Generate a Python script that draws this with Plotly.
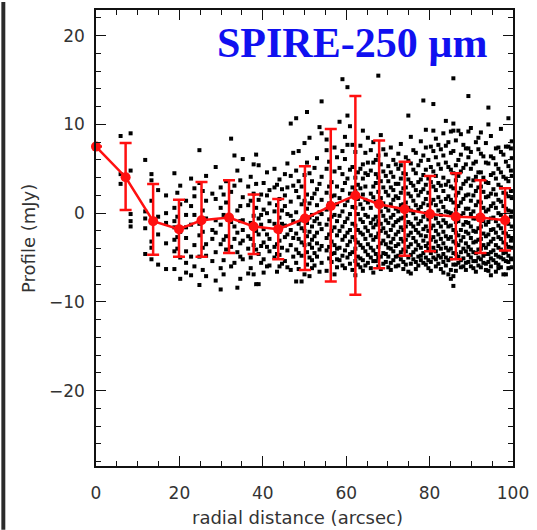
import plotly.graph_objects as go

# ---- binned profile (red) ----
rad = [0, 7.1, 13.7, 19.9, 25.3, 31.9, 37.8, 43.7, 50.1, 56.3, 62.2, 67.9, 74.0, 80.1, 86.3, 92.2, 98.1]
prof = [7.5, 4.05, -0.9, -1.8, -0.8, -0.5, -1.5, -1.8, -0.6, 0.8, 2.0, 1.0, 0.45, -0.1, -0.4, -0.5, -0.8]
upper = [7.5, 7.9, 3.3, 1.5, 3.5, 3.7, 2.1, 1.6, 5.3, 9.5, 13.2, 8.2, 5.8, 4.2, 4.5, 3.7, 2.8]
lower = [7.5, 0.35, -4.7, -4.9, -4.9, -4.5, -4.6, -5.2, -6.4, -7.7, -9.2, -6.2, -4.8, -4.3, -5.2, -4.5, -4.2]

# ---- individual pixel values (black dots), grouped in radial columns ----
col_r = [5.9, 8.3, 11.8, 13.3, 14.9, 16.8, 18.8, 20.2, 21.6, 23.6, 24.8, 26.4, 27.9, 29.9,
         31.2, 32.4, 33.9, 35.2, 36.5, 37.8, 39.0, 40.2, 41.6, 42.8, 44.0, 45.3, 46.7, 48.0,
         49.3, 50.6, 51.8, 53.0, 54.1, 55.3, 56.5, 57.8, 59.1, 60.3, 61.5, 62.8, 64.0, 65.2,
         66.5, 67.7, 68.9, 70.1, 71.3, 72.5, 73.7, 74.9, 76.1, 77.3, 78.5, 79.7, 80.9, 82.1,
         83.3, 84.5, 85.7, 86.9, 88.1, 89.3, 90.5, 91.7, 92.9, 94.1, 95.3, 96.5, 97.7, 98.9, 99.5]
col_vals = [
    [8.7, 4.4, 3.3],
    [9.0, 4.8, -0.1, -0.9, -1.5],
    [6.0, 0.2, -0.6, -1.7, -4.6],
    [4.4, 3.7, 1.4, -3.2, -3.9, -5.2],
    [2.6, -0.4, -2.4, -5.8],
    [2.0, 0.0, -1.1, -6.3, -3.4],
    [4.5, 0.6, -0.9, -1.6, -3.0, -4.3, -6.3],
    [3.1, 1.0, -2.1, -5.0, -7.4],
    [1.4, -0.2, -1.6, -2.8, -4.3, -5.6, -6.7],
    [1.9, -0.2, 2.8, -3.6, -6.0],
    [7.1, 3.4, -1.2, -2.5, -4.9, -8.1],
    [1.4, 4.2, -0.6, -3.5, -4.8, -7.1],
    [2.2, -1.9, -2.9, -5.4],
    [2.9, 0.6, -1.3, -3.5, -6.2, -8.6],
    [3.6, 1.2, -0.4, -2.6, -4.1],
    [8.4, 2.4, -1.0, -3.8, -6.0],
    [4.8, 0.3, -2.2, -4.4, -8.4],
    [6.1, 1.8, -0.8, -1.9, -3.1, -5.2],
    [3.0, 0.9, -2.6, -4.0, -6.8],
    [5.5, 2.2, -0.3, -1.5, -3.6, -6.9],
    [5.4, 1.5, -0.6, -2.4, -4.6, -8.0],
    [3.4, 0.4, -1.8, -3.3, -5.2, -6.7],
    [2.6, 1.1, -0.9, -2.9, -4.3, -5.9],
    [5.0, 2.9, 0.2, -1.2, -3.8, -5.0],
    [3.8, 1.6, -0.5, -2.1, -3.1, -4.7, -6.0],
    [4.4, 2.0, 0.8, -1.4, -2.7, -5.4],
    [10.1, 4.2, 1.3, -0.3, -1.9, -3.6, -6.4],
    [10.7, 4.8, 2.5, 0.1, -2.3, -4.1, -5.6, -7.7],
    [3.0, 1.0, -0.8, -1.7, -3.3, -4.8, -7.7],
    [11.4, 5.7, 2.1, 0.5, -1.1, -2.6, -4.4, -5.8],
    [3.6, 1.7, -0.2, -1.5, -3.0, -3.9, -5.3, -6.2],
    [6.2, 2.7, 0.9, -0.6, -2.2, -3.4, -4.9],
    [12.6, 9.0, 4.1, 1.5, -0.1, -1.8, -3.7, -5.6],
    [8.3, 7.1, 5.0, 2.3, 0.4, -1.3, -2.8, -4.2, -6.5],
    [3.5, 1.9, -0.4, -2.0, -3.2, -4.6, -5.5],
    [6.3, 3.0, 1.0, -0.9, -2.5, -4.0, -5.2, -6.1],
    [15.1, 7.0, 4.4, 2.6, 0.2, -1.5, -3.0, -4.8, -5.9],
    [14.2, 11.0, 7.7, 3.9, 1.4, -0.6, -2.2, -3.6, -5.0],
    [7.7, 5.2, 2.9, 0.7, -1.2, -2.7, -4.4, -6.4],
    [4.6, 3.2, 1.6, -0.1, -1.9, -3.3, -4.9, -5.8],
    [9.3, 5.5, 3.9, 2.1, 0.5, -1.0, -2.4, -3.9, -5.3, -6.5],
    [8.5, 5.7, 4.3, 1.2, -0.4, -2.0, -3.5, -4.7, -5.6],
    [8.0, 5.7, 3.0, 1.8, -0.7, -1.6, -3.0, -4.2, -5.4, -6.7],
    [15.5, 6.5, 4.0, 2.4, 0.8, -0.9, -2.3, -3.8, -5.0, -6.0],
    [7.2, 4.7, 2.9, 1.1, -0.3, -1.7, -3.1, -4.5, -5.7],
    [5.3, 3.6, 2.0, 0.3, -1.1, -2.6, -3.9, -4.9, -6.1],
    [6.0, 4.1, 2.6, 1.5, -0.2, -1.4, -2.9, -4.3, -5.3],
    [6.7, 5.0, 3.3, 1.7, 0.2, -0.8, -2.1, -3.5, -4.8, -5.9],
    [4.5, 2.8, 1.0, -0.5, -1.9, -3.2, -4.1, -5.5, -6.3],
    [11.0, 5.9, 3.8, 2.2, 0.6, -1.0, -2.5, -3.8, -5.0, -6.6],
    [7.1, 4.9, 3.1, 1.4, 0.0, -1.5, -2.8, -4.4, -5.2],
    [5.4, 3.5, 2.0, 0.4, -1.2, -2.2, -3.6, -4.9, -5.9],
    [12.7, 6.5, 4.3, 2.7, 1.1, -0.4, -1.8, -3.1, -4.5, -5.6],
    [6.0, 3.9, 2.3, 0.9, -0.7, -2.0, -3.4, -4.0, -5.3, -6.2],
    [12.3, 9.3, 7.0, 4.7, 3.0, 1.5, -0.2, -1.4, -2.7, -3.9, -5.0],
    [7.7, 5.5, 3.4, 1.8, 0.3, -1.1, -2.4, -3.7, -5.7, -4.8],
    [9.0, 6.5, 4.0, 2.5, 0.7, -0.8, -2.1, -3.4, -4.6, -5.5, -6.7],
    [8.0, 5.2, 3.6, 1.9, 0.1, -1.5, -2.9, -4.2, -5.3, -6.9],
    [15.2, 10.1, 9.3, 7.0, 4.5, 2.8, 1.2, -0.5, -1.9, -3.2, -4.5, -5.8, -7.1, -8.2],
    [9.3, 6.0, 4.2, 2.3, 0.8, -0.9, -2.5, -3.6, -4.9, -5.6],
    [7.7, 5.1, 3.3, 1.6, 0.0, -1.3, -2.7, -4.0, -5.1, -6.0],
    [13.2, 9.2, 7.3, 6.3, 3.9, 2.1, 0.5, -1.1, -2.3, -3.8, -4.7, -5.5],
    [5.6, 3.7, 2.0, 0.2, -0.6, -2.0, -3.3, -4.4, -5.4, -6.2],
    [8.5, 7.2, 4.6, 2.9, 1.3, -0.3, -1.7, -3.0, -4.1, -5.0, -5.9],
    [6.4, 4.0, 2.4, 0.6, -0.9, -2.3, -3.6, -4.8, -5.6],
    [11.9, 10.0, 5.6, 3.4, 1.9, 0.4, -1.0, -2.4, -3.5, -4.6, -5.5, -6.5],
    [6.2, 4.5, 2.7, 1.1, -0.5, -1.8, -2.9, -4.2, -5.3],
    [7.4, 5.0, 3.2, 1.5, 0.0, -1.4, -2.7, -3.9, -4.9, -5.8, -6.2],
    [6.6, 4.1, 2.3, 0.8, -0.8, -2.2, -3.3, -4.5, -5.2, -6.9],
    [10.7, 7.5, 5.3, 3.6, 1.9, 0.3, -1.2, -2.6, -3.8, -4.8, -5.5, -6.2],
    [7.3, 4.8, 2.5, -0.4, -3.1, -5.1],
]

# second interleaved set of radial columns
col_r2 = [19.5, 22.8, 25.6, 28.7, 30.6, 33.2, 34.6, 37.1, 38.4, 39.6, 41.0, 43.4, 44.6, 45.9,
          47.3, 48.6, 50.0, 51.2, 52.4, 53.6, 55.9, 57.2, 58.4, 59.7, 60.9, 62.2, 63.4, 64.6,
          65.9, 67.1, 68.3, 69.5, 70.7, 71.9, 73.1, 74.3, 75.5, 76.7, 77.9, 79.1, 80.3, 81.5,
          82.7, 83.9, 85.1, 86.3, 87.5, 88.7, 89.9, 91.1, 92.3, 93.5, 94.7, 95.9, 97.1, 98.3, 99.7]
col_vals2 = [
    [2.3, -0.4, -2.7, -4.0],
    [3.9, 0.8, -1.3, -4.9, -7.0],
    [2.5, 0.3, -2.1, -3.9, -6.4],
    [5.2, 1.6, -0.8, -2.2, -4.4, -7.6],
    [2.1, -0.2, -3.0, -5.3, -6.9],
    [6.5, 3.1, -1.5, -2.9, -5.6],
    [3.7, 0.8, -0.9, -3.4, -4.9, -7.4],
    [4.1, 1.4, -1.1, -2.9, -5.0, -6.2],
    [6.6, 3.3, 0.6, -2.0, -4.1, -8.0],
    [2.1, -0.2, -1.3, -3.7, -5.6],
    [4.6, 2.0, 0.0, -2.4, -3.8, -6.0],
    [3.2, 0.9, -1.6, -3.5, -4.6, -6.6],
    [2.7, 0.3, -1.2, -3.9, -5.7],
    [5.6, 2.9, -0.1, -2.4, -4.2, -6.1],
    [6.8, 3.1, -0.9, -2.8, -4.9],
    [7.0, 3.6, 1.8, -1.2, -2.9, -4.5, -6.3],
    [7.9, 4.3, 1.4, -2.0, -3.6, -6.9],
    [8.5, 4.5, 1.1, -0.5, -2.1, -3.5, -5.0, -7.1],
    [5.1, 2.2, -0.9, -2.6, -4.5, -5.9],
    [9.7, 3.3, 0.1, -1.2, -4.1, -6.6],
    [5.8, 3.0, 1.1, -0.7, -2.4, -3.8, -5.1],
    [7.4, 4.7, 2.0, -0.2, -1.6, -3.6, -4.5, -6.9],
    [10.3, 5.1, 1.7, -0.3, -2.0, -3.9, -5.3],
    [8.6, 6.1, 3.4, 0.9, -1.0, -2.6, -4.2, -6.2],
    [9.8, 4.9, 2.2, -0.1, -1.9, -3.2, -4.6, -5.7],
    [6.9, 4.0, 2.5, 0.6, -1.4, -3.0, -4.0, -5.4, -7.0],
    [7.6, 5.0, 2.8, 1.0, -0.7, -2.2, -3.6, -5.1, -6.1],
    [6.8, 4.5, 3.0, 1.5, -0.2, -1.6, -2.9, -4.3, -5.9],
    [7.1, 4.8, 2.2, 0.6, -1.1, -2.5, -3.9, -5.0, -6.2],
    [6.0, 4.4, 3.4, 1.3, -0.4, -1.3, -2.7, -4.6, -5.4],
    [8.8, 5.5, 3.6, 1.7, 0.2, -1.2, -2.0, -3.4, -4.9, -6.3],
    [6.6, 4.2, 2.4, 0.7, -0.8, -2.2, -3.5, -4.6, -5.5],
    [7.4, 4.6, 2.9, 1.0, -0.5, -1.9, -3.3, -4.0, -5.6, -6.4],
    [5.5, 3.3, 1.9, 0.5, -1.0, -2.4, -3.7, -4.9, -6.0],
    [7.8, 5.4, 3.9, 2.3, 0.9, -0.6, -1.6, -2.9, -4.4, -5.2],
    [6.3, 4.4, 2.9, 1.2, -0.3, -1.5, -3.0, -4.3, -5.8],
    [8.6, 5.6, 3.4, 1.9, 0.3, -1.2, -2.2, -3.5, -4.7, -5.7, -6.8],
    [6.8, 4.5, 2.6, 0.9, -0.6, -1.9, -3.2, -4.1, -5.5, -6.3],
    [8.1, 5.9, 3.8, 2.4, 0.7, -0.9, -2.5, -3.9, -4.8, -5.3],
    [9.4, 7.4, 4.9, 3.2, 1.6, 0.0, -1.5, -2.6, -3.7, -5.0, -5.8],
    [7.5, 5.2, 3.5, 1.1, -0.4, -1.7, -3.0, -4.5, -5.5, -6.5],
    [8.4, 6.3, 4.2, 2.6, 0.9, -0.6, -2.0, -3.2, -4.3, -5.2, -6.0],
    [7.2, 5.0, 3.1, 1.3, -0.2, -1.5, -2.9, -4.0, -5.0, -6.3],
    [10.4, 7.6, 5.7, 3.2, 1.6, 0.2, -1.1, -2.6, -3.9, -5.0, -5.9],
    [9.2, 6.8, 4.9, 3.0, 1.5, 0.0, -1.4, -2.7, -4.0, -5.1, -6.4, -7.4],
    [8.2, 5.4, 3.7, 2.0, 0.4, -1.0, -2.2, -3.4, -4.6, -5.8, -6.5],
    [8.9, 6.6, 4.7, 2.8, 1.2, -0.3, -1.9, -3.1, -4.4, -5.3, -6.1],
    [7.3, 5.5, 3.6, 2.0, 0.5, -1.0, -2.1, -3.4, -4.3, -5.6, -6.4],
    [9.6, 6.9, 5.0, 3.1, 1.4, -0.1, -1.5, -2.8, -4.1, -5.0, -6.0],
    [8.0, 5.8, 4.1, 2.5, 0.9, -0.6, -2.1, -3.2, -4.5, -5.4, -6.6],
    [9.1, 6.7, 4.6, 3.0, 1.2, -0.4, -1.5, -2.9, -4.0, -5.2, -6.1],
    [7.9, 5.7, 3.5, 1.8, 0.2, -1.3, -2.6, -3.9, -4.6, -5.7, -6.4],
    [8.7, 6.4, 4.3, 2.2, 0.8, -0.6, -1.9, -3.2, -4.4, -5.1, -6.0, -7.0],
    [7.3, 5.5, 3.9, 2.1, 0.6, -0.9, -2.2, -3.6, -4.7, -5.6, -6.6],
    [9.5, 6.9, 4.6, 2.9, 1.3, -0.2, -1.7, -2.9, -4.1, -5.0, -6.1],
    [7.5, 5.8, 3.9, 2.2, 0.5, -0.9, -2.3, -3.5, -4.4, -5.4, -6.9],
    [8.1, 6.2, 4.2, 1.7, 0.2, -1.5, -2.8, -3.9, -5.2, -6.1],
]

dot_x, dot_y = [], []
for rs, vs in ((col_r, col_vals), (col_r2, col_vals2)):
    for r, vals in zip(rs, vs):
        for v in vals:
            dot_x.append(r)
            dot_y.append(v)

x_ticks = [0, 20, 40, 60, 80, 100]
y_ticks = [-20, -10, 0, 10, 20]

title_text = "SPIRE-250 µm"
x_title = "radial distance (arcsec)"
y_title = "Profile (mJy)"

fig = go.Figure()
fig.add_trace(go.Scatter(
    x=dot_x, y=dot_y, mode="markers",
    marker=dict(symbol="square", size=4, color="black", line=dict(width=0)),
    hoverinfo="skip", showlegend=False))

err_plus = [u - p for u, p in zip(upper, prof)]
err_minus = [p - l for p, l in zip(prof, lower)]
fig.add_trace(go.Scatter(
    x=rad, y=prof, mode="lines+markers",
    line=dict(color="#ff1010", width=2.5),
    marker=dict(symbol="circle", size=10, color="#ff1010"),
    error_y=dict(type="data", symmetric=False, array=err_plus, arrayminus=err_minus,
                 color="#ff1010", thickness=2.5, width=6),
    cliponaxis=False, showlegend=False))

tick_font = dict(family="DejaVu Sans, Arial, sans-serif", size=17, color="#333")
title_font = dict(family="DejaVu Sans, Arial, sans-serif", size=18, color="#333")
common = dict(showgrid=False, zeroline=False, showline=True, linecolor="#111", linewidth=1.5,
              mirror="ticks", ticks="inside", tickcolor="#111", tickwidth=1.3,
              tickfont=tick_font)
fig.update_xaxes(range=[0, 100], tickvals=x_ticks, ticklen=10, ticklabelstandoff=11,
                 minor=dict(dtick=5, ticklen=5, ticks="inside", tickcolor="#111", tickwidth=1),
                 **common)
fig.update_yaxes(range=[-28.5, 22.9], tickvals=y_ticks, ticklen=10, ticklabelstandoff=6,
                 minor=dict(dtick=2, ticklen=5, ticks="inside", tickcolor="#111", tickwidth=1),
                 **common)

W, H = 537, 530
L, R, T, B = 96, 18, 8, 64
pw, ph = W - L - R, H - T - B

fig.add_annotation(text=title_text, xref="paper", yref="paper",
                   x=(356 - L) / pw, y=1 - (41 - T) / ph, xanchor="center", yanchor="middle",
                   showarrow=False,
                   font=dict(family="Liberation Serif, Times New Roman, serif", size=42,
                             color="#1010f0", weight="bold"))
fig.add_annotation(text=x_title, xref="paper", yref="paper",
                   x=(300 - L) / pw, y=-(518 - (H - B)) / ph, xanchor="center", yanchor="middle",
                   showarrow=False, font=title_font)
fig.add_annotation(text=y_title, xref="paper", yref="paper", textangle=-90,
                   x=-(L - 27) / pw, y=1 - (237 - T) / ph, xanchor="center", yanchor="middle",
                   showarrow=False, font=title_font)

# dark strip at the left edge of the frame
fig.add_shape(type="rect", xref="paper", yref="paper",
              x0=-L / pw, x1=-(L - 4) / pw, y0=-B / ph, y1=1 + T / ph,
              fillcolor="#2a2a2a", line=dict(width=0), layer="above")

fig.update_layout(width=W, height=H, margin=dict(l=L, r=R, t=T, b=B),
                  paper_bgcolor="white", plot_bgcolor="white", showlegend=False)

fig.write_html("out.html")
